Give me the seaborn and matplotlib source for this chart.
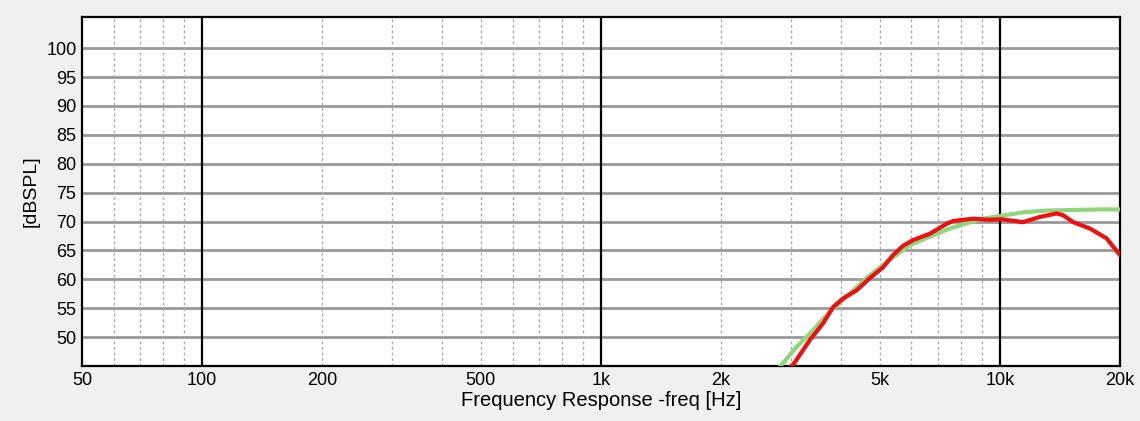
import matplotlib
matplotlib.use("Agg")
import matplotlib.pyplot as plt
import pandas as pd
import seaborn as sns

# values
RED_FREQ = [2924, 3031, 3338, 3604, 3819, 4046, 4372, 4718, 5096, 5398, 5718, 6059,
            6674, 7348, 7634, 8566, 9433, 10090, 11430, 12589, 13864, 14400, 15261,
            16801, 18502, 20000]
RED_DB = [44.5, 45.2, 49.5, 52.4, 55.2, 56.7, 58.1, 60.2, 62.1, 64.2, 65.8, 66.8,
          67.9, 69.6, 70.1, 70.5, 70.3, 70.4, 69.9, 70.8, 71.4, 71.1, 69.9,
          68.8, 67.1, 64.2]
GREEN_FREQ = [2780, 2835, 3091, 3403, 3747, 4126, 4628, 5196, 5946, 6674, 7488, 8904,
              10090, 11430, 13087, 15261, 17797, 20000]
GREEN_DB = [44.6, 45.2, 48.3, 51.2, 54.4, 57.0, 60.2, 63.0, 65.9, 67.4, 68.8, 70.4,
            71.0, 71.6, 71.9, 72.0, 72.1, 72.1]

X_TICKS = [50, 100, 200, 500, 1000, 2000, 5000, 10000, 20000]
X_LABELS = ["50", "100", "200", "500", "1k", "2k", "5k", "10k", "20k"]
DECADES = [100, 1000, 10000]
MINOR = [60, 70, 80, 90, 200, 300, 400, 500, 600, 700, 800, 900,
         2000, 3000, 4000, 5000, 6000, 7000, 8000, 9000]
Y_TICKS = [50, 55, 60, 65, 70, 75, 80, 85, 90, 95, 100]

sns.set_style("white")
plt.rcParams["font.family"] = ["Liberation Sans", "DejaVu Sans"]

red = pd.DataFrame({"freq": RED_FREQ, "spl": RED_DB})
green = pd.DataFrame({"freq": GREEN_FREQ, "spl": GREEN_DB})

fig = plt.figure(figsize=(11.4, 4.21), dpi=100, facecolor="#f0f0f0")
ax = fig.add_axes([0.0719, 0.1306, 0.9106, 0.829])
ax.set_facecolor("white")

ax.set_xscale("log")
ax.set_xlim(50, 20000)
ax.set_ylim(45, 105.4)

# grid: solid grey rows, dotted minor columns, black decade columns
for y in Y_TICKS:
    ax.axhline(y, color="#999999", linewidth=2, zorder=1)
for x in MINOR:
    ax.axvline(x, color="#aaaaaa", linestyle=(0, (2, 2)), linewidth=1, zorder=1)
for x in DECADES:
    ax.axvline(x, color="black", linewidth=1.6, zorder=1)

sns.lineplot(data=green, x="freq", y="spl", ax=ax, color="#8ed77c", linewidth=3, zorder=3)
sns.lineplot(data=red, x="freq", y="spl", ax=ax, color="#ee1010", linewidth=3, zorder=4)

ax.set_xticks(X_TICKS)
ax.set_xticklabels(X_LABELS)
ax.minorticks_off()
ax.set_yticks(Y_TICKS)
ax.tick_params(which="both", length=0, labelsize=13, colors="black", pad=4)
ax.set_xlabel("Frequency Response -freq [Hz]", fontsize=14.5, labelpad=2, color="black")
ax.set_ylabel("[dBSPL]", fontsize=14, labelpad=5, color="black")

for side in ["top", "bottom", "left", "right"]:
    ax.spines[side].set_visible(True)
    ax.spines[side].set_color("black")
    ax.spines[side].set_linewidth(1.6)

fig.savefig("out.png", dpi=100, facecolor=fig.get_facecolor())
